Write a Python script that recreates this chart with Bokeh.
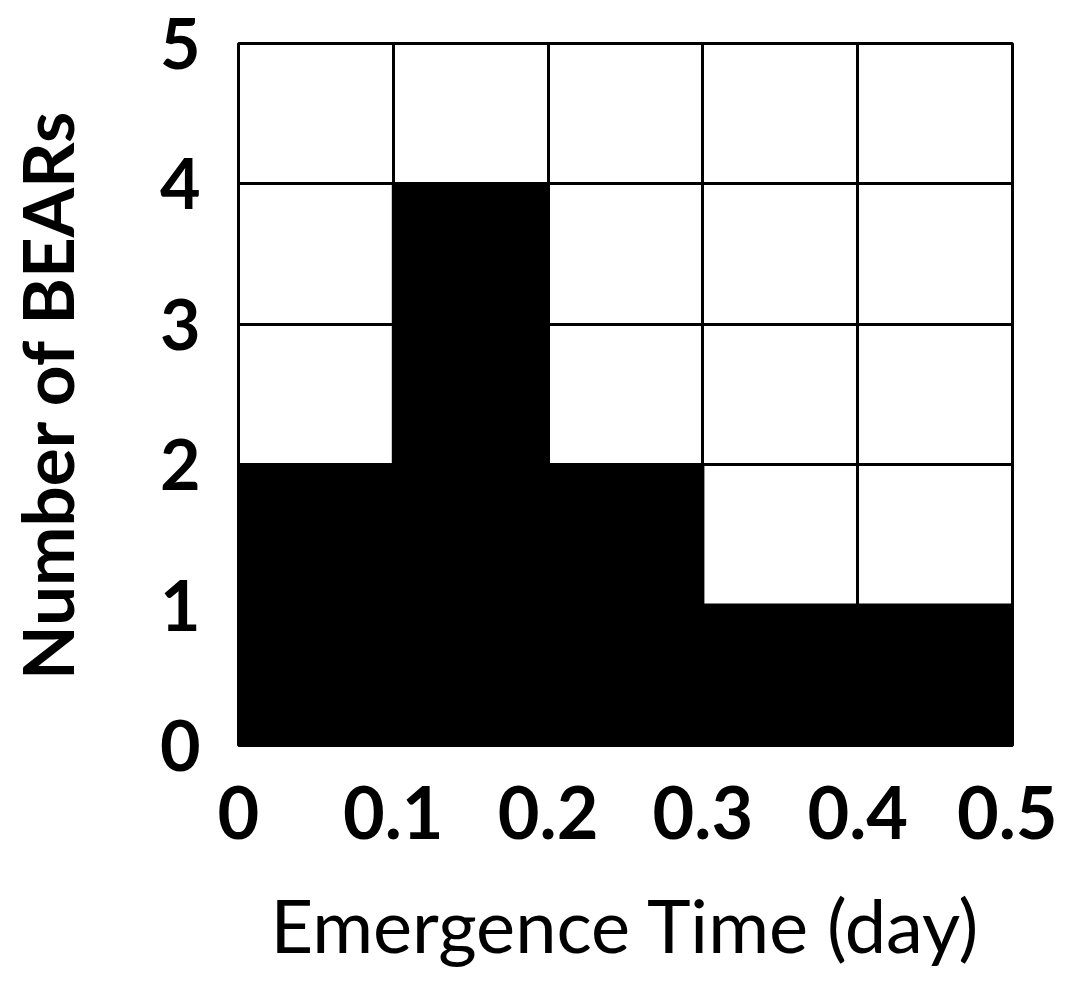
from bokeh.plotting import figure
from bokeh.models import Range1d, FixedTicker
from bokeh.embed import file_html
from bokeh.resources import INLINE

# data
bin_edges = [0, 0.1, 0.2, 0.3, 0.4, 0.5]
counts = [2, 4, 2, 1, 1]
x_tick_labels = ["0", "0.1", "0.2", "0.3", "0.4", "0.5"]
y_ticks = [0, 1, 2, 3, 4, 5]

p = figure(width=1057, height=972, output_backend="svg", toolbar_location=None,
           x_range=Range1d(0, 0.5), y_range=Range1d(0, 5),
           min_border_left=236, min_border_right=45, min_border_top=43, min_border_bottom=227)

p.quad(left=bin_edges[:-1], right=bin_edges[1:], bottom=0, top=counts,
       fill_color="black", line_color="black", line_width=3)

p.outline_line_color = "black"
p.outline_line_width = 3
p.outline_line_alpha = 1

for g in (p.xgrid, p.ygrid):
    g.grid_line_color = "black"
    g.grid_line_width = 3
    g.grid_line_alpha = 1
p.xgrid.ticker = FixedTicker(ticks=bin_edges)
p.ygrid.ticker = FixedTicker(ticks=y_ticks)

p.xaxis.ticker = FixedTicker(ticks=bin_edges)
p.xaxis.major_label_overrides = {t: s for t, s in zip(bin_edges, x_tick_labels)}
p.yaxis.ticker = FixedTicker(ticks=y_ticks)

for ax in (p.xaxis, p.yaxis):
    ax.axis_line_color = None
    ax.major_tick_line_color = None
    ax.minor_tick_line_color = None
    ax.major_tick_out = 0
    ax.major_tick_in = 0
    ax.major_label_text_font = "Lato"
    ax.major_label_text_font_style = "bold"
    ax.major_label_text_color = "black"
    ax.axis_label_text_font = "Lato"
    ax.axis_label_text_color = "black"

p.xaxis.major_label_text_font_size = "72px"
p.yaxis.major_label_text_font_size = "70px"
p.xaxis.major_label_standoff = 40
p.yaxis.major_label_standoff = 38
p.xaxis.axis_label = "Emergence Time (day)"
p.xaxis.axis_label_text_font_style = "normal"
p.xaxis.axis_label_text_font_size = "74px"
p.xaxis.axis_label_standoff = 38
p.yaxis.axis_label = "Number of BEARs"
p.yaxis.axis_label_text_font_style = "bold"
p.yaxis.axis_label_text_font_size = "71px"
p.yaxis.axis_label_standoff = 68

p.background_fill_color = "white"
p.border_fill_color = "white"

open("out.html", "w").write(file_html(p, INLINE))
